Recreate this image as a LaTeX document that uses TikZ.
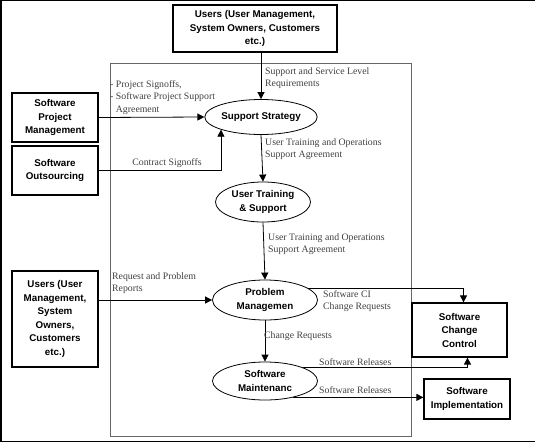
\documentclass[tikz,border=0pt]{standalone}
\usepackage{fontspec}
\setmainfont{Liberation Serif}
\setsansfont{Liberation Sans}
\usetikzlibrary{shapes.geometric,arrows.meta}

\tikzset{
	unitbox/.style={draw, line width=1.2pt, align=center, inner sep=0pt,
		font=\sffamily\bfseries\fontsize{9.8}{13.5}\selectfont},
	procell/.style={ellipse, draw, line width=0.8pt, align=center, inner sep=0pt,
		font=\sffamily\bfseries\fontsize{9.8}{13.5}\selectfont},
	flow/.style={line width=0.8pt, -{Triangle[length=7pt,width=7pt]}},
	lbl/.style={text=black!75, align=left, inner sep=0pt, anchor=north west,
		font=\fontsize{9.8}{12.5}\selectfont}
}

\begin{document}
\begin{tikzpicture}[x=1pt,y=-1pt]
	
	\useasboundingbox (0,0) rectangle (535,444);
	
	% outer frame
	\draw[line width=1.5pt] (535,0.75) -- (0.75,0.75) -- (0.75,441.5) -- (535,441.5);
	
	% process area
	\draw[black!60, line width=0.8pt] (110,63) rectangle (411,436);
	
	% outside units
	\node[unitbox, minimum width=164, minimum height=47] (users) at (255,28.5)
		{Users (User Management,\\System Owners, Customers\\etc.)};
	\node[unitbox, minimum width=86, minimum height=49] (spm) at (55,117.5)
		{Software\\Project\\Management};
	\node[unitbox, minimum width=86, minimum height=49] (so) at (55,170.5)
		{Software\\Outsourcing};
	\node[unitbox, minimum width=86, minimum height=96] (usersb) at (55,319)
		{Users (User\\Management,\\System\\Owners,\\Customers\\etc.)};
	\node[unitbox, minimum width=95, minimum height=54] (scc) at (459.5,330)
		{Software\\Change\\Control};
	\node[unitbox, minimum width=86, minimum height=40] (si) at (467,399)
		{Software\\Implementation};
	
	% processes
	\node[procell, minimum width=99, minimum height=35] (ss) at (261,117) {Support Strategy};
	\node[procell, minimum width=95, minimum height=40] (uts) at (263,202) {User Training\\\& Support};
	\node[procell, minimum width=105, minimum height=40] (pm) at (265,300) {Problem\\Managemen};
	\node[procell, minimum width=105, minimum height=38] (sm) at (265,381) {Software\\Maintenanc};
	
	% flows
	\draw[flow] (users.south -| ss.north) -- (ss.north);
	\draw[flow] (spm.east) -- (ss.west);
	\draw[flow] (so.east) -| (ss.south west);
	\draw[flow] (ss.south) -- (uts.north);
	\draw[flow] (uts.south) -- (pm.north);
	\draw[flow] (usersb.east |- pm.west) -- (pm.west);
	\draw[flow] (pm.15) -| ([xshift=4]scc.north);
	\draw[flow] (pm.south) -- (sm.north);
	\draw[flow] (sm.20) -| ([xshift=8]scc.south);
	\draw[flow] (sm.-30) -- (sm.-30 -| si.west);
	
	% flow labels
	\node[lbl] (lssl) at (265,67) {Support and Service Level\\Requirements};
	\node[lbl] (lps) at (110,80) {- Project Signoffs,\\- Software Project Support\\\hphantom{- }Agreement};
	\node[lbl, anchor=center] (lcs) at (167,163) {Contract Signoffs};
	\node[lbl] (luta) at (265,138) {User Training and Operations\\Support Agreement};
	\node[lbl] (lutb) at (268,233) {User Training and Operations\\Support Agreement};
	\node[lbl] (lrpr) at (112,272) {Request and Problem\\Reports};
	\node[lbl] (lci) at (323,290) {Software CI\\Change Requests};
	\node[lbl] (lcr) at (264,331) {Change Requests};
	\node[lbl] (lsra) at (319,358) {Software Releases};
	\node[lbl] (lsrb) at (319,386) {Software Releases};
	
\end{tikzpicture}
\end{document}
